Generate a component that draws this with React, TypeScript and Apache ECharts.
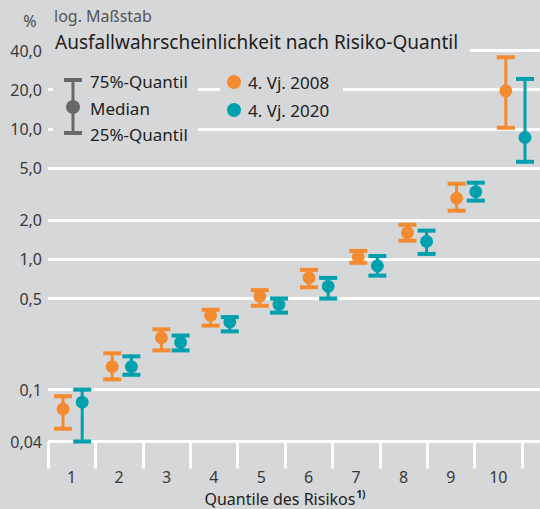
import React, { useEffect, useRef } from 'react';
import * as echarts from 'echarts';

const categories = ['1', '2', '3', '4', '5', '6', '7', '8', '9', '10'];

// 4. Vj. 2008
const q25_2008 = [0.05, 0.12, 0.2, 0.31, 0.44, 0.61, 0.94, 1.39, 2.36, 10.2];
const median_2008 = [0.071, 0.15, 0.25, 0.37, 0.52, 0.72, 1.04, 1.6, 2.94, 19.6];
const q75_2008 = [0.089, 0.19, 0.29, 0.41, 0.58, 0.83, 1.16, 1.84, 3.8, 35.5];

// 4. Vj. 2020
const q25_2020 = [0.04, 0.13, 0.2, 0.28, 0.39, 0.5, 0.75, 1.1, 2.82, 5.6];
const median_2020 = [0.08, 0.15, 0.23, 0.33, 0.45, 0.62, 0.89, 1.37, 3.3, 8.6];
const q75_2020 = [0.1, 0.18, 0.26, 0.36, 0.5, 0.72, 1.06, 1.66, 3.87, 24.2];

const gridValues = [0.04, 0.1, 0.5, 1, 2, 5, 10, 20, 40];
const gridLabels = ['0,04', '0,1', '0,5', '1,0', '2,0', '5,0', '10,0', '20,0', '40,0'];

const ORANGE = '#f48b30';
const TEAL = '#00a0ae';
const GREY = '#67686a';
const BG = '#d6d7d9';
const FONT = 'Noto Sans';

const makeRender = (offsetFrac: number, color: string) => (params: any, api: any) => {
  const i = api.value(0);
  const med = api.value(2);
  const p = api.coord([i, med]);
  const pNext = api.coord([i + 1, med]);
  const bw = pNext[0] - p[0];
  const x = p[0] + offsetFrac * bw;
  const yLo = api.coord([i, api.value(1)])[1];
  const yHi = api.coord([i, api.value(3)])[1];
  return {
    type: 'group',
    children: [
      { type: 'line', shape: { x1: x, y1: yHi, x2: x, y2: yLo }, style: { stroke: color, lineWidth: 3 } },
      { type: 'rect', shape: { x: x - 9, y: yHi - 2, width: 18, height: 4 }, style: { fill: color } },
      { type: 'rect', shape: { x: x - 9, y: yLo - 2, width: 18, height: 4 }, style: { fill: color } },
      { type: 'circle', shape: { cx: x, cy: p[1], r: 6.4 }, style: { fill: color } },
    ],
  };
};

export default function App() {
  const ref = useRef<HTMLDivElement>(null);
  useEffect(() => {
    document.body.style.margin = '0';
    document.body.style.background = BG;
    const chart = echarts.init(ref.current!, null, { renderer: 'svg' });
    const data2008 = categories.map((_, i) => [i, q25_2008[i], median_2008[i], q75_2008[i]]);
    const data2020 = categories.map((_, i) => [i, q25_2020[i], median_2020[i], q75_2020[i]]);
    const plotTop = 50.5;
    const plotHeight = 391;
    chart.setOption({
      animation: false,
      backgroundColor: BG,
      textStyle: { fontFamily: FONT },
      grid: [
        { left: 48, right: 0, top: plotTop, height: plotHeight },
        { left: 48, right: 18, top: plotTop, height: plotHeight },
      ],
      xAxis: [
        { type: 'category', gridIndex: 0, data: categories, boundaryGap: true, show: false },
        {
          type: 'category',
          gridIndex: 1,
          data: categories,
          boundaryGap: true,
          position: 'bottom',
          offset: 14.5,
          axisLine: { show: false },
          axisTick: { show: true, interval: 0, length: 27, lineStyle: { color: '#ffffff', width: 3 } },
          axisLabel: { interval: 0, margin: 13, fontSize: 16, color: '#3a3a3a', fontFamily: FONT },
        },
      ],
      yAxis: [
        {
          type: 'log',
          logBase: 10,
          gridIndex: 0,
          min: 0.04,
          max: 40,
          axisLine: { show: false },
          axisTick: { show: false },
          axisLabel: { show: false },
          splitLine: { show: false },
        },
        { type: 'value', gridIndex: 1, show: false },
      ],
      series: [
        {
          type: 'line',
          xAxisIndex: 0,
          yAxisIndex: 0,
          data: categories.map(() => null),
          z: 1,
          silent: true,
          markLine: {
            silent: true,
            symbol: 'none',
            animation: false,
            lineStyle: { color: '#ffffff', width: 3, type: 'solid' },
            label: {
              show: true,
              position: 'start',
              formatter: '{b}',
              distance: 6,
              fontSize: 16,
              color: '#3a3a3a',
              fontFamily: FONT,
            },
            emphasis: { disabled: true },
            data: gridValues.map((v, i) => ({ yAxis: v, name: gridLabels[i] })),
          },
        },
        {
          type: 'custom',
          name: '4. Vj. 2008',
          xAxisIndex: 0,
          yAxisIndex: 0,
          z: 5,
          renderItem: makeRender(-0.195, ORANGE),
          encode: { x: 0, y: [1, 2, 3] },
          data: data2008,
        },
        {
          type: 'custom',
          name: '4. Vj. 2020',
          xAxisIndex: 0,
          yAxisIndex: 0,
          z: 5,
          renderItem: makeRender(0.195, TEAL),
          encode: { x: 0, y: [1, 2, 3] },
          data: data2020,
        },
      ],
      graphic: [
        { type: 'rect', z: 100, shape: { x: 48, y: 28, width: 422, height: 26 }, style: { fill: BG } },
        { type: 'rect', z: 100, shape: { x: 53, y: 66, width: 145, height: 76 }, style: { fill: BG } },
        { type: 'rect', z: 100, shape: { x: 220, y: 70, width: 123, height: 50 }, style: { fill: BG } },
        {
          type: 'text', z: 101, x: 30, y: 21,
          style: { text: '%', fontSize: 16, fill: '#4a4a4a', align: 'center', verticalAlign: 'middle', fontFamily: FONT },
        },
        {
          type: 'text', z: 101, x: 54, y: 16,
          style: { text: 'log. Maßstab', fontSize: 16, fill: '#555555', align: 'left', verticalAlign: 'middle', fontFamily: FONT },
        },
        {
          type: 'text', z: 101, x: 55, y: 42,
          style: { text: 'Ausfallwahrscheinlichkeit nach Risiko-Quantil', fontSize: 19, fill: '#1e1e1e', align: 'left', verticalAlign: 'middle', fontFamily: FONT },
        },
        // left legend: quantile icon
        { type: 'line', z: 101, shape: { x1: 73, y1: 80, x2: 73, y2: 133 }, style: { stroke: GREY, lineWidth: 3 } },
        { type: 'rect', z: 101, shape: { x: 64, y: 78, width: 18, height: 4 }, style: { fill: GREY } },
        { type: 'rect', z: 101, shape: { x: 64, y: 131, width: 18, height: 4 }, style: { fill: GREY } },
        { type: 'circle', z: 101, shape: { cx: 73, cy: 107, r: 7 }, style: { fill: GREY } },
        {
          type: 'text', z: 101, x: 90, y: 81,
          style: { text: '75%-Quantil', fontSize: 17, fill: '#222222', align: 'left', verticalAlign: 'middle', fontFamily: FONT },
        },
        {
          type: 'text', z: 101, x: 90, y: 108,
          style: { text: 'Median', fontSize: 17, fill: '#222222', align: 'left', verticalAlign: 'middle', fontFamily: FONT },
        },
        {
          type: 'text', z: 101, x: 90, y: 134,
          style: { text: '25%-Quantil', fontSize: 17, fill: '#222222', align: 'left', verticalAlign: 'middle', fontFamily: FONT },
        },
        // right legend: series
        { type: 'circle', z: 101, shape: { cx: 234, cy: 82, r: 7 }, style: { fill: ORANGE } },
        { type: 'circle', z: 101, shape: { cx: 234, cy: 110, r: 7 }, style: { fill: TEAL } },
        {
          type: 'text', z: 101, x: 248, y: 82,
          style: { text: '4. Vj. 2008', fontSize: 17, fill: '#222222', align: 'left', verticalAlign: 'middle', fontFamily: FONT },
        },
        {
          type: 'text', z: 101, x: 248, y: 110,
          style: { text: '4. Vj. 2020', fontSize: 17, fill: '#222222', align: 'left', verticalAlign: 'middle', fontFamily: FONT },
        },
        // x axis title
        {
          type: 'text', z: 101, x: 285, y: 498,
          style: {
            text: '{a|Quantile des Risikos}{s|1)}',
            align: 'center',
            verticalAlign: 'middle',
            rich: {
              a: { fontSize: 16, fill: '#222222', fontFamily: FONT, lineHeight: 18, verticalAlign: 'bottom' },
              s: { fontSize: 10, fill: '#222222', fontFamily: FONT, fontWeight: 'bold', lineHeight: 18, verticalAlign: 'top', padding: [0, 0, 6, 1] },
            },
          },
        },
      ],
    });
    return () => chart.dispose();
  }, []);
  return <div ref={ref} style={{ width: 540, height: 509 }} />;
}
